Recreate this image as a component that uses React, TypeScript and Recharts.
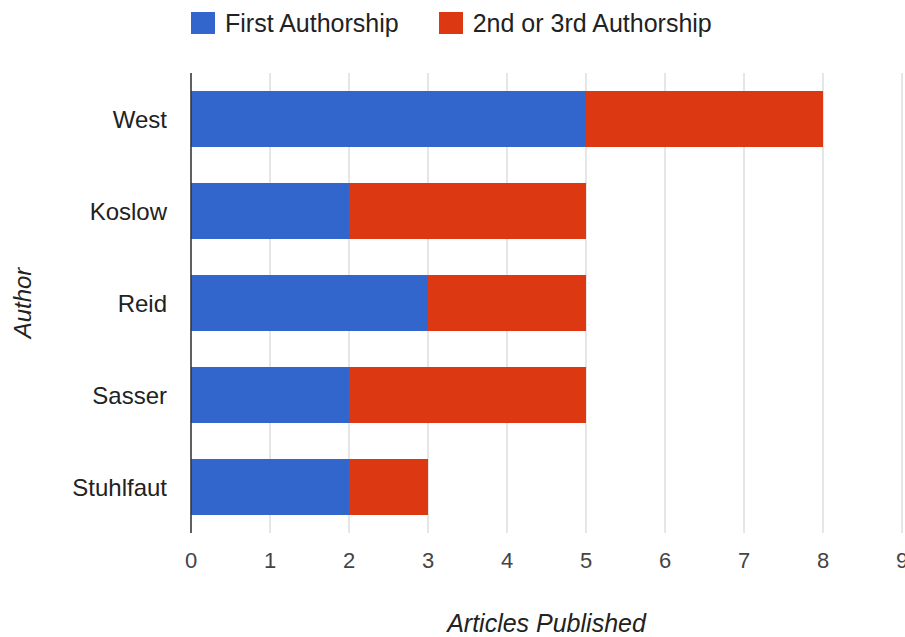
import React from 'react';
import { BarChart, Bar, XAxis, YAxis, CartesianGrid } from 'recharts';

const authors = ['West', 'Koslow', 'Reid', 'Sasser', 'Stuhlfaut'];
const firstAuthorship = [5, 2, 3, 2, 2];
const otherAuthorship = [3, 3, 2, 3, 1];
const xTicks = [0, 1, 2, 3, 4, 5, 6, 7, 8, 9];

const seriesInfo = [
  { key: 'first', name: 'First Authorship', color: '#3366cc' },
  { key: 'other', name: '2nd or 3rd Authorship', color: '#dc3912' },
];

const data = authors.map((a, i) => ({
  author: a,
  first: firstAuthorship[i],
  other: otherAuthorship[i],
}));

const FONT = "Arial, 'Liberation Sans', sans-serif";

const YTitle = (props: any) => {
  const vb = props.viewBox || {};
  const cy = vb.y + vb.height / 2;
  return (
    <text
      x={22}
      y={cy}
      transform={`rotate(-90, 22, ${cy})`}
      textAnchor="middle"
      dominantBaseline="central"
      fontStyle="italic"
      fontSize={24}
      fontFamily={FONT}
      fill="#222"
    >
      Author
    </text>
  );
};

const XTitle = (props: any) => {
  const vb = props.viewBox || {};
  const cx = vb.x + vb.width / 2;
  return (
    <text
      x={cx}
      y={632}
      textAnchor="middle"
      fontStyle="italic"
      fontSize={25}
      fontFamily={FONT}
      fill="#222"
    >
      Articles Published
    </text>
  );
};

const App: React.FC = () => {
  return (
    <div style={{ position: 'absolute', left: 0, top: 0, width: 905, height: 637, fontFamily: FONT }}>
      {/* legend */}
      <div style={{ position: 'absolute', left: 191, top: 12, display: 'flex', alignItems: 'center' }}>
        {seriesInfo.map((s, i) => (
          <div key={s.key} style={{ display: 'flex', alignItems: 'center', marginRight: i === 0 ? 40 : 0 }}>
            <span style={{ display: 'inline-block', width: 24, height: 22, background: s.color, marginRight: 10 }} />
            <span style={{ fontSize: 25, color: '#222', lineHeight: '22px' }}>{s.name}</span>
          </div>
        ))}
      </div>

      <BarChart
        width={905}
        height={637}
        data={data}
        layout="vertical"
        margin={{ top: 73, right: 3, bottom: 0, left: 0 }}
        barSize={56}
      >
        <CartesianGrid horizontal={false} stroke="#cccccc" />
        <XAxis
          type="number"
          domain={[0, 9]}
          ticks={xTicks}
          interval={0}
          axisLine={false}
          tickLine={false}
          tickSize={0}
          tickMargin={19}
          height={104}
          tick={{ fontSize: 22, fill: '#444', fontFamily: FONT }}
          label={<XTitle />}
        />
        <YAxis
          type="category"
          dataKey="author"
          width={191}
          axisLine={{ stroke: '#333', strokeWidth: 1.5 }}
          tickLine={false}
          tickSize={0}
          tickMargin={24}
          tick={{ fontSize: 24, fill: '#222', fontFamily: FONT }}
          label={<YTitle />}
        />
        {seriesInfo.map((s) => (
          <Bar
            key={s.key}
            dataKey={s.key}
            name={s.name}
            stackId="a"
            fill={s.color}
            isAnimationActive={false}
          />
        ))}
      </BarChart>
    </div>
  );
};

export default App;
